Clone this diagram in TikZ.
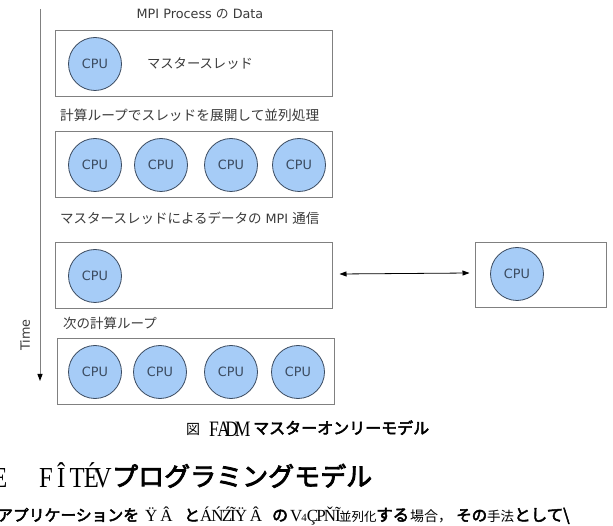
\documentclass[tikz,border=0pt]{standalone}
\usepackage{fontspec}
\setmainfont{DejaVu Sans}
\newfontfamily\jp{Noto Sans CJK JP}
\newfontfamily\jpb{Noto Sans CJK JP}[FakeBold=3]
\newfontfamily\glyphs{Liberation Serif}
\usetikzlibrary{arrows.meta}
\definecolor{cpufill}{HTML}{A6CCF7}
\definecolor{cpuline}{HTML}{3B4B60}
\definecolor{boxline}{HTML}{808080}
\definecolor{ink}{HTML}{3A3A3A}
\begin{document}
\begin{tikzpicture}[x=1pt,y=-1pt,
  frame/.style={draw=boxline,line width=1pt,inner sep=0pt},
  cpu/.style={circle,draw=cpuline,fill=cpufill,line width=0.8pt,
    minimum size=53pt,inner sep=0pt,text=cpuline,
    font=\fontsize{12.8}{15}\selectfont},
  lbl/.style={text=ink,inner sep=0pt,font=\fontsize{12.8}{15}\selectfont},
  jlbl/.style={lbl,anchor=west},
  bodytext/.style={inner sep=0pt,anchor=base west,text=black},
]
\useasboundingbox (0,0) rectangle (613,526);

% time axis
\coordinate (tstart) at (40,9);
\coordinate (tend) at (40,381);
\draw[boxline,line width=1pt,-{Triangle[length=7pt,width=5pt,fill=black,color=black]}] (tstart) -- (tend);
\node[lbl,rotate=90] (time) at (25,335) {Time};

% phase 1: master thread only
\node[lbl] (title) at (200,14) {MPI Process {\jp の} Data};
\node[frame,minimum width=277pt,minimum height=66pt] (p1) at (193.5,64) {};
\node[cpu] (c10) at (95,64) {CPU};
\node[lbl,font=\jp\fontsize{13.3}{15}\selectfont] (master) at (200,64) {マスタースレッド};

% phase 2: threads spread over the loop
\node[jlbl,font=\jp\fontsize{13.7}{15}\selectfont] (l2) at (60,115) {計算ループでスレッドを展開して並列処理};
\node[frame,minimum width=277pt,minimum height=66pt] (p2) at (193.5,165) {};
\node[cpu] (c20) at (95,165) {CPU};
\node[cpu] (c21) at (161,165) {CPU};
\node[cpu] (c22) at (231,165) {CPU};
\node[cpu] (c23) at (299,165) {CPU};

% phase 3: MPI communication by the master thread
\node[jlbl] (l3) at (60,218) {{\jp\fontsize{13.5}{15}\selectfont マスタースレッドによるデータの} MPI {\jp\fontsize{13.5}{15}\selectfont 通信}};
\node[frame,minimum width=277pt,minimum height=66pt] (p3) at (193.5,276) {};
\node[cpu] (c30) at (95,276) {CPU};
\node[frame,minimum width=131pt,minimum height=65pt] (rp) at (540.5,275.5) {};
\node[cpu] (rc) at (517,274) {CPU};
\draw[line width=0.8pt,{Triangle[length=7pt,width=5pt]}-{Triangle[length=7pt,width=5pt]}]
  ([xshift=7pt,yshift=2pt]p3.east) -- ([xshift=-5pt,yshift=2.5pt]rp.west);

% phase 4: next loop
\node[jlbl,font=\jp\fontsize{13.5}{15}\selectfont] (l4) at (63,323) {次の計算ループ};
\node[frame,minimum width=277pt,minimum height=65pt] (p4) at (195.5,371.5) {};
\node[cpu] (c40) at (95,372) {CPU};
\node[cpu] (c41) at (160,372) {CPU};
\node[cpu] (c42) at (231,372) {CPU};
\node[cpu] (c43) at (298,372) {CPU};

% caption and following text
\node[bodytext,font=\jp\fontsize{14}{16}\selectfont] (fig) at (186,434) {図};
\node[bodytext,font=\glyphs\fontsize{22}{24}\selectfont] (fignum) at (209,436)
  {\scalebox{0.8}[1]{F\kern-2ptA\kern-6ptD\kern-4ptM}};
\node[bodytext,font=\jpb\fontsize{16}{18}\selectfont] (figname) at (253,434) {マスターオンリーモデル};

\node[bodytext,font=\glyphs\fontsize{29}{30}\selectfont] (secno) at (-7,487) {\scalebox{0.8}[1]{E}};
\node[bodytext,font=\glyphs\fontsize{29}{30}\selectfont] (sect) at (39,487)
  {\scalebox{0.85}[1]{F\kern5ptÎ\kern5ptT\kern-1ptÉ\kern-6ptV}};
\node[bodytext,font=\jpb\fontsize{26}{28}\selectfont] (secname) at (112,486) {プログラミングモデル};

\node[bodytext,font=\jpb\fontsize{15.8}{18}\selectfont] (b1) at (-3,521) {アプリケーションを};
\node[bodytext,font=\glyphs\fontsize{17}{18}\selectfont] (b2) at (145,521) {Ÿ\,Â};
\node[bodytext,font=\jpb\fontsize{15.8}{18}\selectfont] (b3) at (184,521) {と};
\node[bodytext,font=\glyphs\fontsize{17}{18}\selectfont] (b4) at (200,521) {Á\kern-1ptŃ\kern-2ptŹ\kern-2ptĨ\kern-1ptŸ\,Â};
\node[bodytext,font=\jpb\fontsize{15.8}{18}\selectfont] (b5) at (272,521) {の};
\node[bodytext,font=\glyphs\fontsize{17}{18}\selectfont] (b6) at (290,521) {V\kern-1pt{\fontsize{11}{12}\selectfont 4}Ç\kern-2ptP\kern-2ptŇ\kern-1ptĨ};
\node[bodytext,font=\jp\fontsize{12.5}{18}\selectfont] (b7) at (339,521) {並列化};
\node[bodytext,font=\jpb\fontsize{16.5}{18}\selectfont] (b8) at (376,521) {する};
\node[bodytext,font=\jp\fontsize{14}{18}\selectfont] (b9) at (410,521) {場合，};
\node[bodytext,font=\jpb\fontsize{15.5}{18}\selectfont] (b10) at (456,521) {その};
\node[bodytext,font=\jp\fontsize{13.5}{18}\selectfont] (b11) at (487,521) {手法};
\node[bodytext,font=\jpb\fontsize{16.5}{18}\selectfont] (b12) at (514,521) {として\textbackslash};
\end{tikzpicture}
\end{document}
